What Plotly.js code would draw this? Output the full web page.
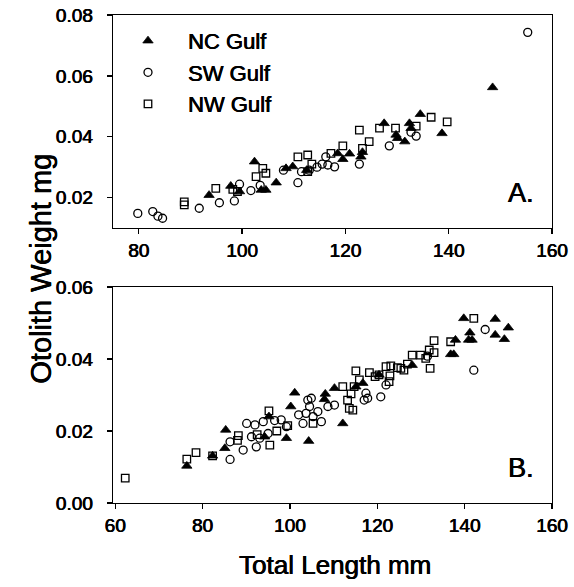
<!DOCTYPE html>
<html>
<head>
<meta charset="utf-8">
<script src="https://cdn.plot.ly/plotly-3.0.1.min.js"></script>
<style>html,body{margin:0;padding:0;background:#fff;}#chart{width:574px;height:587px;}</style>
</head>
<body>
<div id="chart"></div>
<script>
// ---------- Panel A data ----------
var ncA_x = [93.6, 97.8, 99.5, 102.4, 103.7, 104.6, 106.6, 108.5, 109.8, 112.5, 118.5, 119.5, 120.8, 123.0, 123.3, 127.5, 129.8, 130.1, 131.5, 132.4, 132.7, 134.5, 138.7, 148.5];
var ncA_y = [0.0208, 0.0238, 0.0220, 0.0318, 0.0225, 0.0225, 0.0249, 0.0296, 0.0302, 0.0290, 0.0345, 0.0326, 0.0344, 0.0334, 0.0349, 0.0444, 0.0406, 0.0395, 0.0384, 0.0444, 0.0428, 0.0474, 0.0411, 0.0562];

var swA_x = [79.8, 82.7, 83.7, 84.6, 91.7, 95.6, 98.5, 99.5, 101.7, 103.5, 108.0, 110.8, 111.5, 113.0, 114.5, 115.5, 116.2, 116.6, 117.9, 122.7, 128.5, 132.7, 133.7, 155.3];
var swA_y = [0.0148, 0.0154, 0.0139, 0.0132, 0.0165, 0.0183, 0.0189, 0.0244, 0.0223, 0.0240, 0.0290, 0.0249, 0.0285, 0.0290, 0.0300, 0.0310, 0.0334, 0.0307, 0.0301, 0.0310, 0.0370, 0.0415, 0.0402, 0.0743];

var nwA_x = [88.8, 88.8, 94.9, 98.2, 99.1, 102.7, 104.0, 104.6, 110.8, 112.7, 112.7, 113.5, 117.2, 119.5, 122.7, 123.3, 124.6, 126.6, 129.7, 133.7, 136.6, 139.7];
var nwA_y = [0.0186, 0.0176, 0.0230, 0.0227, 0.0220, 0.0269, 0.0296, 0.0280, 0.0334, 0.0340, 0.0285, 0.0310, 0.0345, 0.0370, 0.0422, 0.0362, 0.0384, 0.0428, 0.0428, 0.0435, 0.0464, 0.0449];

// ---------- Panel B data ----------
var ncB_x = [76.4, 82.3, 85.1, 85.3, 94.2, 95.2, 99.2, 100.2, 101.1, 104.3, 107.9, 108.1, 110.2, 112.1, 115.1, 116.7, 120.4, 128.0, 136.8, 137.5, 137.9, 139.8, 140.9, 141.2, 141.7, 147.0, 147.0, 149.1, 150.0];
var ncB_y = [0.0103, 0.0131, 0.0152, 0.0203, 0.0184, 0.0240, 0.0180, 0.0268, 0.0306, 0.0172, 0.0288, 0.0303, 0.0319, 0.0221, 0.0323, 0.0333, 0.0356, 0.0383, 0.0413, 0.0413, 0.0453, 0.0513, 0.0453, 0.0473, 0.0453, 0.0511, 0.0467, 0.0455, 0.0487];

var swB_x = [86.3, 86.3, 89.3, 90.1, 92.0, 92.3, 91.2, 93.1, 93.9, 95.0, 96.5, 98.0, 99.2, 102.0, 103.0, 103.7, 104.1, 104.5, 104.9, 105.3, 106.4, 107.2, 108.7, 110.2, 117.0, 117.4, 117.8, 120.8, 122.0, 131.5, 142.1, 144.7];
var swB_y = [0.0121, 0.0170, 0.0147, 0.0221, 0.0217, 0.0156, 0.0184, 0.0180, 0.0226, 0.0193, 0.0229, 0.0231, 0.0212, 0.0245, 0.0221, 0.0249, 0.0286, 0.0268, 0.0291, 0.0240, 0.0254, 0.0226, 0.0268, 0.0272, 0.0286, 0.0305, 0.0291, 0.0295, 0.0328, 0.0408, 0.0369, 0.0482];

var nwB_x = [62.3, 76.4, 78.5, 82.3, 88.0, 88.2, 92.5, 95.2, 95.4, 97.0, 99.5, 105.3, 112.1, 113.2, 113.6, 114.0, 114.4, 114.7, 115.1, 115.9, 118.2, 119.5, 120.4, 122.0, 122.7, 122.9, 123.1, 124.6, 125.4, 126.1, 126.9, 128.0, 129.9, 131.1, 131.9, 132.1, 133.0, 133.0, 136.8, 142.1];
var nwB_y = [0.0069, 0.0122, 0.0140, 0.0131, 0.0174, 0.0187, 0.0190, 0.0256, 0.0161, 0.0200, 0.0215, 0.0221, 0.0323, 0.0286, 0.0263, 0.0303, 0.0258, 0.0323, 0.0367, 0.0342, 0.0362, 0.0351, 0.0356, 0.0379, 0.0337, 0.0353, 0.0381, 0.0376, 0.0374, 0.0369, 0.0386, 0.0411, 0.0411, 0.0402, 0.0425, 0.0374, 0.0418, 0.0451, 0.0448, 0.0513];

var seriesNames = ['NC Gulf', 'SW Gulf', 'NW Gulf'];
var xTicksA = [80, 100, 120, 140, 160];
var xTicksB = [60, 80, 100, 120, 140, 160];
var yTicksA = [0.02, 0.04, 0.06, 0.08];
var yTicksB = [0.00, 0.02, 0.04, 0.06];

var FONT = 'Liberation Sans, Arial, Helvetica, sans-serif';
var THICK = '0.45px 0 0 #000, -0.2px 0 0 #000';

var triM = {symbol: 'triangle-up', size: 9, color: '#000', line: {color: '#000', width: 0.8}};
var cirM = {symbol: 'circle-open', size: 8, color: '#000', line: {color: '#000', width: 1.3}};
var sqM  = {symbol: 'square-open', size: 7.5, color: '#000', line: {color: '#000', width: 1.3}};

var traces = [
  {x: ncA_x, y: ncA_y, name: seriesNames[0], legendgroup: 'nc', mode: 'markers', type: 'scatter', marker: triM, xaxis: 'x', yaxis: 'y'},
  {x: swA_x, y: swA_y, name: seriesNames[1], legendgroup: 'sw', mode: 'markers', type: 'scatter', marker: cirM, xaxis: 'x', yaxis: 'y'},
  {x: nwA_x, y: nwA_y, name: seriesNames[2], legendgroup: 'nw', mode: 'markers', type: 'scatter', marker: sqM, xaxis: 'x', yaxis: 'y'},
  {x: ncB_x, y: ncB_y, name: seriesNames[0], legendgroup: 'nc', showlegend: false, mode: 'markers', type: 'scatter', marker: triM, xaxis: 'x2', yaxis: 'y2'},
  {x: swB_x, y: swB_y, name: seriesNames[1], legendgroup: 'sw', showlegend: false, mode: 'markers', type: 'scatter', marker: cirM, xaxis: 'x2', yaxis: 'y2'},
  {x: nwB_x, y: nwB_y, name: seriesNames[2], legendgroup: 'nw', showlegend: false, mode: 'markers', type: 'scatter', marker: sqM, xaxis: 'x2', yaxis: 'y2'}
];

function axisBase(extra) {
  var a = {
    showline: true, mirror: true, linecolor: '#000', linewidth: 1.4,
    ticks: 'outside', ticklen: 5, tickwidth: 1.3, tickcolor: '#000',
    showgrid: false, zeroline: false,
    tickfont: {family: FONT, size: 19, color: '#000', shadow: THICK}
  };
  for (var k in extra) a[k] = extra[k];
  return a;
}

var layout = {
  width: 574, height: 587,
  margin: {l: 113, r: 22, t: 15, b: 84},
  paper_bgcolor: '#fff', plot_bgcolor: '#fff',
  font: {family: FONT, color: '#000'},
  showlegend: true,
  legend: {
    x: -0.0114, y: 0.99, xanchor: 'left', yanchor: 'top',
    bgcolor: 'rgba(0,0,0,0)', borderwidth: 0,
    font: {family: FONT, size: 22, color: '#000', shadow: THICK},
    tracegroupgap: 0, itemwidth: 70
  },
  xaxis: axisBase({domain: [0, 1], anchor: 'y', range: [75, 160], tickvals: xTicksA}),
  yaxis: axisBase({domain: [0.5635, 1], anchor: 'x', range: [0.01, 0.08], tickvals: yTicksA, tickformat: '.2f', ticklabelstandoff: 10}),
  xaxis2: axisBase({domain: [0, 1], anchor: 'y2', range: [59.5, 160], tickvals: xTicksB}),
  yaxis2: axisBase({domain: [0, 0.4426], anchor: 'x2', range: [0, 0.06], tickvals: yTicksB, tickformat: '.2f', ticklabelstandoff: 10}),
  annotations: [
    {text: 'A.', xref: 'x', yref: 'y', x: 154, y: 0.0215, showarrow: false,
     font: {family: FONT, size: 27, color: '#000', shadow: THICK}},
    {text: 'B.', xref: 'x2', yref: 'y2', x: 153, y: 0.0098, showarrow: false,
     font: {family: FONT, size: 27, color: '#000', shadow: THICK}},
    {text: 'Otolith Weight mg', xref: 'paper', yref: 'paper', x: -0.205, y: 0.48, textangle: -90,
     showarrow: false, font: {family: FONT, size: 29, color: '#000', shadow: THICK}},
    {text: 'Total Length mm', xref: 'paper', yref: 'paper', x: 0.505, y: -0.128, yanchor: 'middle',
     showarrow: false, font: {family: FONT, size: 26, color: '#000', shadow: THICK}}
  ]
};

Plotly.newPlot('chart', traces, layout, {displayModeBar: false, staticPlot: true});
</script>
</body>
</html>
